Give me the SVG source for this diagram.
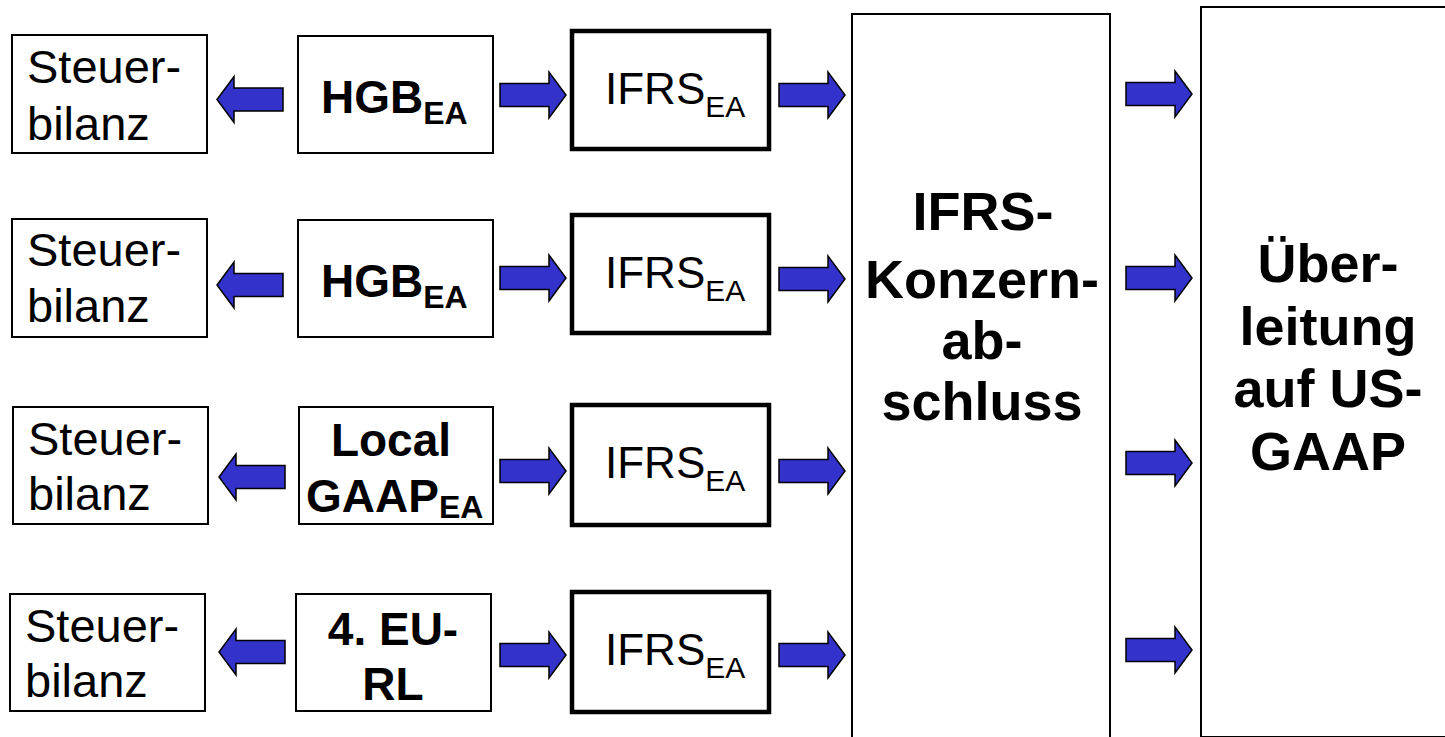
<svg xmlns="http://www.w3.org/2000/svg" width="1445" height="737" viewBox="0 0 1445 737">
  <style>
    .box { fill: #ffffff; stroke: #000000; stroke-width: 2; }
    .thick { fill: #ffffff; stroke: #000000; stroke-width: 4.5; }
    .reg { font-family: "Liberation Sans", Arial, sans-serif; font-size: 47px; fill: #000; }
    .bold { font-family: "Liberation Sans", Arial, sans-serif; font-size: 46px; font-weight: bold; fill: #000; }
    .ifrs { font-family: "Liberation Sans", Arial, sans-serif; font-size: 44px; fill: #000; }
    .big { font-family: "Liberation Sans", Arial, sans-serif; font-size: 54px; font-weight: bold; fill: #000; text-anchor: middle; }
    .sub { font-size: 30px; }
    .bsub { font-size: 32px; }
    .arrow { fill: #3333cc; stroke: #000000; stroke-width: 1.5; stroke-linejoin: miter; }
  </style>
  <defs>
    <!-- block arrow pointing right, origin at tail centre -->
    <path id="blockArrow" d="M0,-11.5 H49 V-23 L66,0 L49,23 V11.5 H0 Z"/>
  </defs>
  <rect width="1445" height="737" fill="#ffffff"/>

  <!-- large target boxes -->
  <g id="konzernabschluss">
    <rect class="box" x="852" y="14" width="258" height="740"/>
    <text class="big" x="983" y="230">IFRS-</text>
    <text class="big" x="982" y="298">Konzern-</text>
    <text class="big" x="982" y="359">ab-</text>
    <text class="big" x="982" y="420">schluss</text>
  </g>
  <g id="ueberleitung">
    <rect class="box" x="1201" y="7" width="260" height="730"/>
    <text class="big" x="1328" y="282">Über-</text>
    <text class="big" x="1328" y="345">leitung</text>
    <text class="big" x="1328" y="407">auf US-</text>
    <text class="big" x="1328" y="470">GAAP</text>
  </g>

  <!-- row 1 -->
  <g id="steuer1">
    <rect class="box" x="12" y="35" width="195" height="118"/>
    <text class="reg" x="27" y="83">Steuer-</text>
    <text class="reg" x="27" y="140">bilanz</text>
  </g>
  <g id="hgb1">
    <rect class="box" x="298" y="36" width="195" height="117"/>
    <text class="bold" x="321" y="113" font-size="44">HGB<tspan class="bsub" dy="11">EA</tspan></text>
  </g>
  <g id="ifrs1">
    <rect class="thick" x="572" y="31" width="197" height="118"/>
    <text class="ifrs" x="605" y="104">IFRS<tspan class="sub" dy="13">EA</tspan></text>
  </g>

  <!-- row 2 -->
  <g id="steuer2">
    <rect class="box" x="12" y="219" width="195" height="118"/>
    <text class="reg" x="27" y="266">Steuer-</text>
    <text class="reg" x="27" y="322">bilanz</text>
  </g>
  <g id="hgb2">
    <rect class="box" x="298" y="220" width="195" height="117"/>
    <text class="bold" x="321" y="297" font-size="44">HGB<tspan class="bsub" dy="11">EA</tspan></text>
  </g>
  <g id="ifrs2">
    <rect class="thick" x="572" y="215" width="197" height="118"/>
    <text class="ifrs" x="605" y="288">IFRS<tspan class="sub" dy="13">EA</tspan></text>
  </g>

  <!-- row 3 -->
  <g id="steuer3">
    <rect class="box" x="13" y="407" width="195" height="117"/>
    <text class="reg" x="28" y="455">Steuer-</text>
    <text class="reg" x="28" y="510">bilanz</text>
  </g>
  <g id="localgaap">
    <rect class="box" x="299" y="407" width="194" height="117"/>
    <text class="bold" x="391" y="456" text-anchor="middle">Local</text>
    <text class="bold" x="306" y="512">GAAP<tspan class="bsub" dy="6">EA</tspan></text>
  </g>
  <g id="ifrs3">
    <rect class="thick" x="572" y="405" width="197" height="120"/>
    <text class="ifrs" x="605" y="478">IFRS<tspan class="sub" dy="13">EA</tspan></text>
  </g>

  <!-- row 4 -->
  <g id="steuer4">
    <rect class="box" x="10" y="594" width="195" height="117"/>
    <text class="reg" x="25" y="642">Steuer-</text>
    <text class="reg" x="25" y="697">bilanz</text>
  </g>
  <g id="eurl">
    <rect class="box" x="296" y="594" width="195" height="117"/>
    <text class="bold" x="393" y="645" text-anchor="middle" font-size="48">4. EU-</text>
    <text class="bold" x="393" y="700" text-anchor="middle" font-size="48">RL</text>
  </g>
  <g id="ifrs4">
    <rect class="thick" x="572" y="592" width="197" height="120"/>
    <text class="ifrs" x="605" y="665">IFRS<tspan class="sub" dy="13">EA</tspan></text>
  </g>

  <!-- connectors -->
  <g id="connectors">
    <!-- to tax balance sheets (pointing left) -->
    <use href="#blockArrow" class="arrow" transform="translate(283,99.5) scale(-1,1)"/>
    <use href="#blockArrow" class="arrow" transform="translate(283,285) scale(-1,1)"/>
    <use href="#blockArrow" class="arrow" transform="translate(285,477) scale(-1,1)"/>
    <use href="#blockArrow" class="arrow" transform="translate(285,652) scale(-1,1)"/>
    <!-- single statements to IFRS -->
    <use href="#blockArrow" class="arrow" transform="translate(500,95)"/>
    <use href="#blockArrow" class="arrow" transform="translate(500,278)"/>
    <use href="#blockArrow" class="arrow" transform="translate(500,471)"/>
    <use href="#blockArrow" class="arrow" transform="translate(500,655)"/>
    <!-- IFRS to group accounts -->
    <use href="#blockArrow" class="arrow" transform="translate(779,95)"/>
    <use href="#blockArrow" class="arrow" transform="translate(779,279)"/>
    <use href="#blockArrow" class="arrow" transform="translate(779,471)"/>
    <use href="#blockArrow" class="arrow" transform="translate(779,655)"/>
    <!-- group accounts to US-GAAP reconciliation -->
    <use href="#blockArrow" class="arrow" transform="translate(1126,94)"/>
    <use href="#blockArrow" class="arrow" transform="translate(1126,278)"/>
    <use href="#blockArrow" class="arrow" transform="translate(1126,463)"/>
    <use href="#blockArrow" class="arrow" transform="translate(1126,650)"/>
  </g>
</svg>
